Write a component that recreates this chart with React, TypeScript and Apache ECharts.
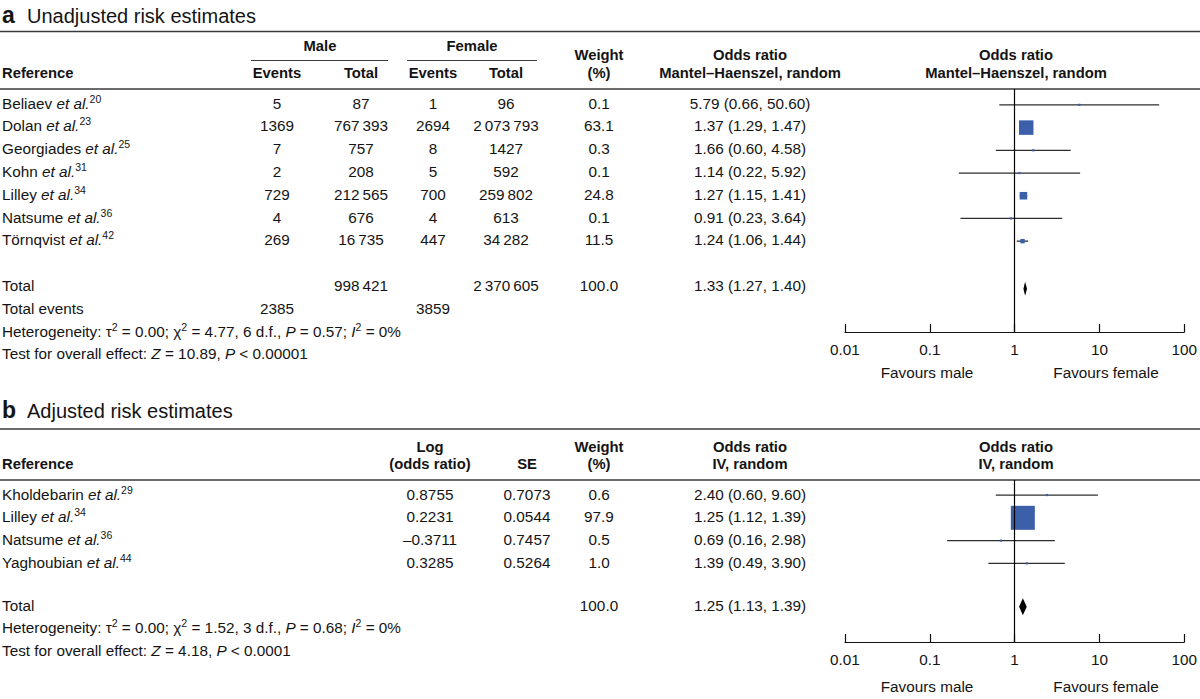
import React, { useEffect, useRef } from 'react';
import * as echarts from 'echarts';

// ---------- tick labels ----------
const tickLabels = ['0.01', '0.1', '1', '10', '100'];

// ---------- panel a: unadjusted ----------
const refsA = ['Beliaev', 'Dolan', 'Georgiades', 'Kohn', 'Lilley', 'Natsume', 'Törnqvist'];
const citeA = ['20', '23', '25', '31', '34', '36', '42'];
const maleEvents = [5, 1369, 7, 2, 729, 4, 269];
const maleTotal = [87, 767393, 757, 208, 212565, 676, 16735];
const femaleEvents = [1, 2694, 8, 5, 700, 4, 447];
const femaleTotal = [96, 2073793, 1427, 592, 259802, 613, 34282];
const weightA = [0.1, 63.1, 0.3, 0.1, 24.8, 0.1, 11.5];
const orA = [5.79, 1.37, 1.66, 1.14, 1.27, 0.91, 1.24];
const loA = [0.66, 1.29, 0.6, 0.22, 1.15, 0.23, 1.06];
const hiA = [50.6, 1.47, 4.58, 5.92, 1.41, 3.64, 1.44];
const totalA = { maleTotal: 998421, femaleTotal: 2370605, weight: 100.0, or: 1.33, lo: 1.27, hi: 1.4, maleEvents: 2385, femaleEvents: 3859 };
const hetA = { tau2: '0.00', chi2: '4.77', df: '6', p: '0.57', i2: '0' };
const testA = { z: '10.89', p: '0.00001' };

// ---------- panel b: adjusted ----------
const refsB = ['Kholdebarin', 'Lilley', 'Natsume', 'Yaghoubian'];
const citeB = ['29', '34', '36', '44'];
const logOrB = [0.8755, 0.2231, -0.3711, 0.3285];
const seB = [0.7073, 0.0544, 0.7457, 0.5264];
const weightB = [0.6, 97.9, 0.5, 1.0];
const orB = [2.4, 1.25, 0.69, 1.39];
const loB = [0.6, 1.12, 0.16, 0.49];
const hiB = [9.6, 1.39, 2.98, 3.9];
const totalB = { weight: 100.0, or: 1.25, lo: 1.13, hi: 1.39 };
const hetB = { tau2: '0.00', chi2: '1.52', df: '3', p: '0.68', i2: '0' };
const testB = { z: '4.18', p: '0.0001' };

// ---------- styling ----------
const FONT = "'Liberation Sans', Arial, Helvetica, sans-serif";
const INK = '#141414';
const RULE = '#3a3a3a';
const BLUE = '#3b5fa9';
const FS = 15.3;
const FSB = 14.8;

const grp = (n: number) => (n < 10000 ? String(n) : String(n).replace(/\B(?=(\d{3})+(?!\d))/g, '\u2009'));
const f1 = (n: number) => n.toFixed(1);
const f2 = (n: number) => n.toFixed(2);
const ciText = (o: number, l: number, h: number) => `${f2(o)} (${f2(l)}, ${f2(h)})`;
const signed4 = (n: number) => (n < 0 ? '\u2013' + Math.abs(n).toFixed(4) : n.toFixed(4));

const rich: any = {
  n: { fontSize: FS, fontFamily: FONT, fill: INK, lineHeight: 20 },
  i: { fontSize: FS, fontFamily: FONT, fontStyle: 'italic', fill: INK, lineHeight: 20 },
  s: { fontSize: 10.5, fontFamily: FONT, fill: INK, lineHeight: 11, verticalAlign: 'top' },
};

function T(text: string, x: number, y: number, o: any = {}) {
  return {
    type: 'text',
    x,
    y,
    silent: true,
    style: {
      text,
      fill: INK,
      fontFamily: FONT,
      fontSize: o.size || (o.bold ? FSB : FS),
      fontWeight: o.bold ? 'bold' : 'normal',
      align: o.align || 'center',
      verticalAlign: 'middle',
      rich: o.rich ? rich : undefined,
    },
  };
}
function L(x1: number, y1: number, x2: number, y2: number, w = 1.5) {
  return { type: 'line', silent: true, shape: { x1, y1, x2, y2 }, style: { stroke: RULE, lineWidth: w } };
}
const nameRich = (n: string, c: string) => `{n|${n} }{i|et al.}{s|${c}}`;
const hetRich = (h: any) =>
  `{n|Heterogeneity: \u03c4}{s|2}{n| = ${h.tau2}; \u03c7}{s|2}{n| = ${h.chi2}, ${h.df} d.f., }{i|P}{n| = ${h.p}; }{i|I}{s|2}{n| = ${h.i2}%}`;
const testRich = (t: any) => `{n|Test for overall effect: }{i|Z}{n| = ${t.z}, }{i|P}{n| < ${t.p}}`;

const yA = (i: number) => 103 + i * 22.8;
const yB = (i: number) => 494 + i * 22.8;

function buildGraphic() {
  const g: any[] = [];
  // Panel a title & header
  g.push(T('a', 2, 15, { bold: true, size: 23, align: 'left' }));
  g.push(T('Unadjusted risk estimates', 27, 16, { size: 20, align: 'left' }));
  g.push(L(0, 31.5, 1200, 31.5));
  g.push(T('Male', 320, 46, { bold: true }));
  g.push(L(251, 60.5, 388, 60.5, 1));
  g.push(T('Female', 472, 46, { bold: true }));
  g.push(L(407, 60.5, 537, 60.5, 1));
  g.push(T('Reference', 2, 73, { bold: true, align: 'left' }));
  g.push(T('Events', 277, 73, { bold: true }));
  g.push(T('Total', 361, 73, { bold: true }));
  g.push(T('Events', 433, 73, { bold: true }));
  g.push(T('Total', 506, 73, { bold: true }));
  g.push(T('Weight', 599, 55, { bold: true }));
  g.push(T('(%)', 599, 73, { bold: true }));
  g.push(T('Odds ratio', 750, 55, { bold: true }));
  g.push(T('Mantel\u2013Haenszel, random', 750, 73, { bold: true }));
  g.push(T('Odds ratio', 1016, 55, { bold: true }));
  g.push(T('Mantel\u2013Haenszel, random', 1016, 73, { bold: true }));
  g.push(L(0, 89, 1200, 89));
  refsA.forEach((r, i) => {
    const y = yA(i);
    g.push(T(nameRich(r, citeA[i]), 2, y, { align: 'left', rich: true }));
    g.push(T(grp(maleEvents[i]), 277, y));
    g.push(T(grp(maleTotal[i]), 361, y));
    g.push(T(grp(femaleEvents[i]), 433, y));
    g.push(T(grp(femaleTotal[i]), 506, y));
    g.push(T(f1(weightA[i]), 599, y));
    g.push(T(ciText(orA[i], loA[i], hiA[i]), 750, y));
  });
  g.push(T('Total', 2, yA(8), { align: 'left' }));
  g.push(T(grp(totalA.maleTotal), 361, yA(8)));
  g.push(T(grp(totalA.femaleTotal), 506, yA(8)));
  g.push(T(f1(totalA.weight), 599, yA(8)));
  g.push(T(ciText(totalA.or, totalA.lo, totalA.hi), 750, yA(8)));
  g.push(T('Total events', 2, yA(9), { align: 'left' }));
  g.push(T(grp(totalA.maleEvents), 277, yA(9)));
  g.push(T(grp(totalA.femaleEvents), 433, yA(9)));
  g.push(T(hetRich(hetA), 2, yA(10), { align: 'left', rich: true }));
  g.push(T(testRich(testA), 2, yA(11), { align: 'left', rich: true }));
  g.push(T('Favours male', 927, 372));
  g.push(T('Favours female', 1106, 372));

  // Panel b
  g.push(T('b', 2, 410, { bold: true, size: 23, align: 'left' }));
  g.push(T('Adjusted risk estimates', 27, 411, { size: 20, align: 'left' }));
  g.push(L(0, 429, 1200, 429));
  g.push(T('Reference', 2, 464, { bold: true, align: 'left' }));
  g.push(T('Log', 430, 447, { bold: true }));
  g.push(T('(odds ratio)', 430, 464, { bold: true }));
  g.push(T('SE', 527, 464, { bold: true }));
  g.push(T('Weight', 599, 447, { bold: true }));
  g.push(T('(%)', 599, 464, { bold: true }));
  g.push(T('Odds ratio', 750, 447, { bold: true }));
  g.push(T('IV, random', 750, 464, { bold: true }));
  g.push(T('Odds ratio', 1016, 447, { bold: true }));
  g.push(T('IV, random', 1016, 464, { bold: true }));
  g.push(L(0, 480, 1200, 480));
  refsB.forEach((r, i) => {
    const y = yB(i);
    g.push(T(nameRich(r, citeB[i]), 2, y, { align: 'left', rich: true }));
    g.push(T(signed4(logOrB[i]), 430, y));
    g.push(T(seB[i].toFixed(4), 527, y));
    g.push(T(f1(weightB[i]), 599, y));
    g.push(T(ciText(orB[i], loB[i], hiB[i]), 750, y));
  });
  g.push(T('Total', 2, yB(4.87), { align: 'left' }));
  g.push(T(f1(totalB.weight), 599, yB(4.87)));
  g.push(T(ciText(totalB.or, totalB.lo, totalB.hi), 750, yB(4.87)));
  g.push(T(hetRich(hetB), 2, yB(5.87), { align: 'left', rich: true }));
  g.push(T(testRich(testB), 2, yB(6.87), { align: 'left', rich: true }));
  g.push(T('Favours male', 927, 686));
  g.push(T('Favours female', 1106, 686));
  return g;
}

function sizeFn(wMax: number, sMax: number) {
  return (w: number) => Math.max(2.2, sMax * Math.pow(w / wMax, 0.7));
}

function xAxisDef(gridIndex: number) {
  return {
    type: 'log',
    logBase: 10,
    gridIndex,
    min: 0.01,
    max: 100,
    position: 'bottom',
    splitLine: { show: false },
    axisLine: { show: true, onZero: false, lineStyle: { color: '#111', width: 1.2 } },
    axisTick: { show: true, inside: true, length: 8, lineStyle: { color: '#111', width: 1.2 } },
    minorTick: { show: false },
    axisLabel: {
      margin: 10,
      fontSize: FS,
      fontFamily: FONT,
      color: INK,
      formatter: (v: number) => tickLabels[Math.round(Math.log10(v)) + 2] ?? '',
    },
  };
}

function ciSeries(idx: number, lo: number[], hi: number[]) {
  return {
    type: 'custom',
    xAxisIndex: idx,
    yAxisIndex: idx,
    silent: true,
    data: lo.map((l, i) => [l, hi[i], i]),
    encode: { x: [0, 1], y: 2 },
    renderItem: (params: any, api: any) => {
      const p1 = api.coord([api.value(0), api.value(2)]);
      const p2 = api.coord([api.value(1), api.value(2)]);
      return {
        type: 'line',
        shape: { x1: p1[0], y1: p1[1], x2: p2[0], y2: p2[1] },
        style: { stroke: '#2e2e2e', lineWidth: 1.3 },
      };
    },
  };
}

function boxSeries(idx: number, or: number[], w: number[], sz: (w: number) => number) {
  return {
    type: 'scatter',
    xAxisIndex: idx,
    yAxisIndex: idx,
    silent: true,
    symbol: 'rect',
    data: or.map((o, i) => [o, i, w[i]]),
    symbolSize: (val: number[]) => sz(val[2]),
    itemStyle: { color: BLUE, opacity: 1 },
    markLine: {
      silent: true,
      symbol: ['none', 'none'],
      label: { show: false },
      lineStyle: { color: '#000', width: 1.2, type: 'solid' },
      data: [{ xAxis: 1 }],
    },
  };
}

function diamondSeries(idx: number, t: any, row: number, halfH: number) {
  return {
    type: 'custom',
    xAxisIndex: idx,
    yAxisIndex: idx,
    silent: true,
    data: [[t.lo, t.or, t.hi, row]],
    encode: { x: [0, 2], y: 3 },
    renderItem: (params: any, api: any) => {
      const a = api.coord([api.value(0), api.value(3)]);
      const m = api.coord([api.value(1), api.value(3)]);
      const b = api.coord([api.value(2), api.value(3)]);
      return {
        type: 'polygon',
        shape: { points: [[a[0], a[1]], [m[0], m[1] - halfH], [b[0], b[1]], [m[0], m[1] + halfH]] },
        style: { fill: '#000' },
      };
    },
  };
}

export default function App() {
  const ref = useRef<HTMLDivElement>(null);
  useEffect(() => {
    document.body.style.margin = '0';
    if (!ref.current) return;
    const chart = echarts.init(ref.current, undefined, { renderer: 'svg' });
    const option: any = {
      animation: false,
      backgroundColor: '#fff',
      grid: [
        { left: 845, width: 342, top: 89, height: 243 },
        { left: 845, width: 342, top: 480, height: 162 },
      ],
      xAxis: [xAxisDef(0), xAxisDef(1)],
      yAxis: [
        { type: 'value', gridIndex: 0, inverse: true, min: -0.7, max: 10, show: false },
        { type: 'value', gridIndex: 1, inverse: true, min: -0.66, max: 6.45, show: false },
      ],
      series: [
        ciSeries(0, loA, hiA),
        boxSeries(0, orA, weightA, sizeFn(63.1, 14.5)),
        diamondSeries(0, totalA, 8.1, 7),
        ciSeries(1, loB, hiB),
        boxSeries(1, orB, weightB, sizeFn(97.9, 24)),
        diamondSeries(1, totalB, 4.9, 8.5),
      ],
      graphic: buildGraphic(),
    };
    chart.setOption(option);
    return () => chart.dispose();
  }, []);
  return <div ref={ref} style={{ width: 1200, height: 699 }} />;
}
